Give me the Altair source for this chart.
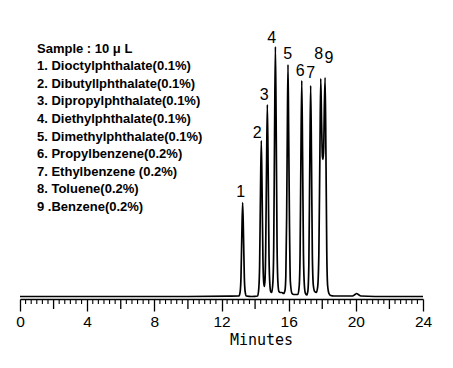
import altair as alt
import pandas as pd

# Chromatogram trace: time (min) and detector signal
times = [0.0, 5.0, 10.0, 12.5, 13.04, 13.11, 13.16, 13.21, 13.26, 13.31, 13.36, 13.41, 13.48, 13.8,
         14.15, 14.22, 14.27, 14.32, 14.37, 14.42, 14.47, 14.51, 14.55, 14.59, 14.63, 14.68, 14.73,
         14.78, 14.83, 14.88, 14.93, 14.99, 15.06, 15.11, 15.16, 15.21, 15.26, 15.31, 15.36, 15.42,
         15.5, 15.6, 15.7, 15.78, 15.83, 15.88, 15.92, 15.96, 16.0, 16.05, 16.1, 16.2, 16.3, 16.4,
         16.55, 16.63, 16.68, 16.73, 16.78, 16.83, 16.88, 16.94, 17.0, 17.07, 17.14, 17.2, 17.26,
         17.31, 17.36, 17.41, 17.47, 17.55, 17.65, 17.73, 17.8, 17.86, 17.91, 17.96, 18.01, 18.05,
         18.09, 18.12, 18.17, 18.22, 18.27, 18.32, 18.4, 18.5, 18.7, 19.8, 19.95, 20.05, 20.15, 20.3,
         22.0, 24.0]
signal = [0, 0, 0, 0.3, 0.5, 4.7, 19, 61, 94, 61, 19, 4.7, 0.5, 0,
          0.5, 8, 31, 101, 156, 101, 35, 15, 10, 16, 45, 125, 192,
          125, 40, 12, 5, 4, 14, 50, 162, 250, 162, 50, 14, 5,
          4, 4, 3, 6, 20, 80, 165, 232, 165, 70, 15, 3, 2, 2,
          2, 11, 43, 140, 216, 140, 43, 10, 3, 1.5, 5, 30, 137,
          211, 137, 42, 11, 5, 4, 10, 45, 142, 218, 175, 140, 137,
          150, 185, 219, 142, 44, 11, 3, 1, 0.5, 0.5, 2, 3, 2, 0.5,
          0, 0]

# Peak numbers and where their labels sit
peak_labels = ["1", "2", "3", "4", "5", "6", "7", "8", "9"]
label_time = [13.14, 14.13, 14.55, 14.99, 15.94, 16.68, 17.31, 17.79, 18.4]
label_signal = [105, 164, 202, 259, 243, 226, 224, 243, 239]

legend_lines = [
    "Sample : 10 \u03bc L",
    "1. Dioctylphthalate(0.1%)",
    "2. Dibutyllphthalate(0.1%)",
    "3. Dipropylphthalate(0.1%)",
    "4. Diethylphthalate(0.1%)",
    "5. Dimethylphthalate(0.1%)",
    "6. Propylbenzene(0.2%)",
    "7. Ethylbenzene (0.2%)",
    "8. Toluene(0.2%)",
    "9 .Benzene(0.2%)",
]

major_ticks = [0, 4, 8, 12, 16, 20, 24]
mid_ticks = [2, 6, 10, 14, 18, 22]
minor_ticks = [round(i / 3, 4) for i in range(0, 73) if i % 6 != 0]

trace = pd.DataFrame({"t": times, "s": signal})
labels = pd.DataFrame({"t": label_time, "s": label_signal, "lab": peak_labels})

W, H = 403, 279
xscale = alt.Scale(domain=[0, 24], nice=False, zero=False)
yscale = alt.Scale(domain=[-2.5, 276.5], nice=False, zero=False)

xaxis = alt.Axis(
    values=major_ticks,
    title="Minutes",
    titleFont="DejaVu Sans Mono",
    titleFontSize=15,
    titleFontWeight="normal",
    titleColor="black",
    titleX=241,
    titleY=40,
    titleBaseline="middle",
    titleAlign="center",
    format="d",
    labelFont="Liberation Sans",
    labelFontSize=15.5,
    labelColor="black",
    labelPadding=3,
    labelOverlap=False,
    labelFlush=False,
    labelBound=False,
    tickColor="black",
    tickWidth=1.3,
    tickSize=12,
    domainColor="black",
    domainWidth=1.5,
    grid=False,
)

line = alt.Chart(trace).mark_line(color="black", strokeWidth=1.7, interpolate="monotone").encode(
    x=alt.X("t:Q", scale=xscale, axis=xaxis),
    y=alt.Y("s:Q", scale=yscale, axis=None),
)

mid = alt.Chart(pd.DataFrame({"t": mid_ticks})).mark_rule(color="black", strokeWidth=1.3).encode(
    x=alt.X("t:Q", scale=xscale),
    y=alt.value(H),
    y2=alt.value(H + 10),
)

minor = alt.Chart(pd.DataFrame({"t": minor_ticks})).mark_rule(color="black", strokeWidth=1.1).encode(
    x=alt.X("t:Q", scale=xscale),
    y=alt.value(H),
    y2=alt.value(H + 5),
)

peak_text = alt.Chart(labels).mark_text(
    font="Liberation Sans", fontSize=16, color="black", baseline="middle", align="center"
).encode(
    x=alt.X("t:Q", scale=xscale),
    y=alt.Y("s:Q", scale=yscale),
    text="lab:N",
)

legend = alt.Chart(pd.DataFrame({"k": [0]})).mark_text(
    font="Liberation Sans", fontSize=13, fontWeight="bold", color="black",
    align="left", baseline="top", lineHeight=17.6,
).encode(
    x=alt.value(17),
    y=alt.value(22.5),
    text=alt.value(legend_lines),
)

chart = alt.layer(line, mid, minor, peak_text, legend).properties(
    width=W,
    height=H,
    padding={"left": 12, "top": 12, "right": 20, "bottom": 60},
    autosize=alt.AutoSizeParams(type="none"),
    background="white",
).configure_view(stroke=None)

chart.save("out.html", embed_options={"renderer": "svg", "actions": False})
